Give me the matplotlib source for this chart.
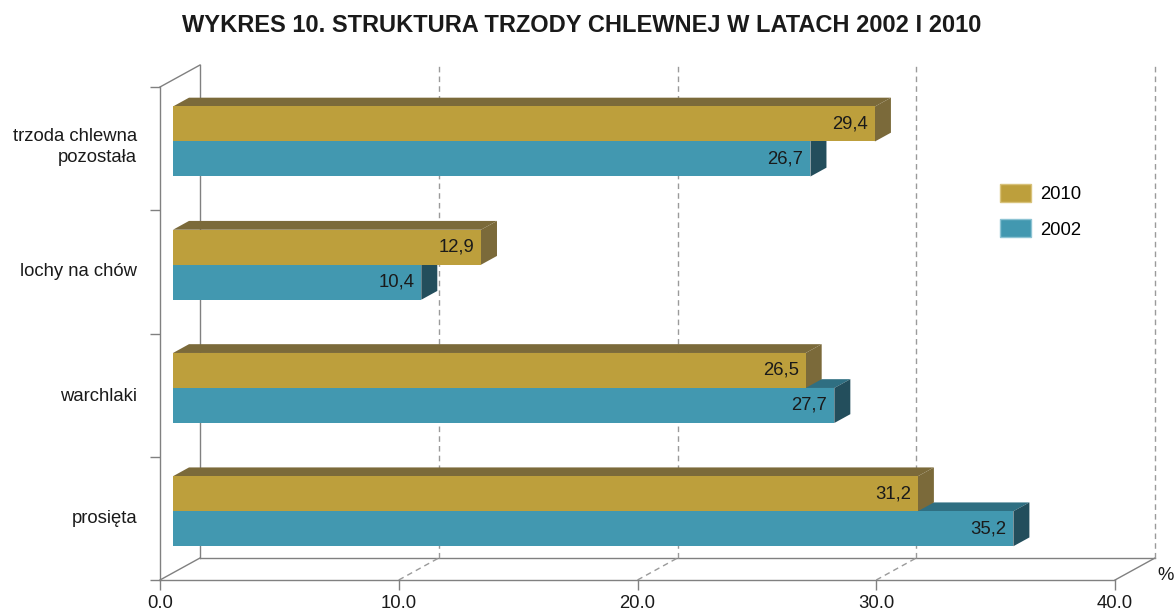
import matplotlib
matplotlib.use("Agg")
import matplotlib.pyplot as plt
from matplotlib.patches import Patch
from matplotlib.transforms import ScaledTranslation

plt.rcParams["font.family"] = ["Liberation Sans", "DejaVu Sans"]

categories = ["prosięta", "warchlaki", "lochy na chów", "trzoda chlewna\npozostała"]
values_2010 = [31.2, 26.5, 12.9, 29.4]
values_2002 = [35.2, 27.7, 10.4, 26.7]
x_ticks = [0, 10, 20, 30, 40]
x_tick_labels = ["0.0", "10.0", "20.0", "30.0", "40.0"]

GOLD = "#bd9f3c"
GOLD_DARK = "#7b6a3a"
TEAL = "#4298b0"
TEAL_TOP = "#2f6f82"
TEAL_SIDE = "#234e5c"
AXIS = "#808080"
GRID = "#9a9a9a"
FS = 13.3

W, H = 1174, 611
fig = plt.figure(figsize=(W / 100, H / 100), dpi=100)
left, right, top, bottom = 160, 1115, 87, 580
ax = fig.add_axes([left / W, 1 - bottom / H, (right - left) / W, (bottom - top) / H])
ax.set_xlim(0, 40)
ax.set_ylim(0, 4)

# depth of the pseudo 3D box, pixels -> data units
px_x = (right - left) / 40
px_y = (bottom - top) / 4
DX = 40 / px_x
DY = 22 / px_y


def proj(x, y, d):
    return x + DX * d, y + DY * d


def poly(pts, color, z):
    xs, ys = zip(*[proj(*p) for p in pts])
    ax.fill(xs, ys, color=color, lw=0, zorder=z, clip_on=False)


def line(p0, p1, z=1, **kw):
    a, b = proj(*p0), proj(*p1)
    ax.plot([a[0], b[0]], [a[1], b[1]], zorder=z, clip_on=False, **kw)


# walls and floor
line((0, 0, 1), (0, 4, 1), color=AXIS, lw=1)
line((0, 4, 0), (0, 4, 1), color=AXIS, lw=1)
line((0, 0, 1), (40, 0, 1), color=AXIS, lw=1)
line((0, 0, 0), (0, 0, 1), color=AXIS, lw=1)
line((40, 0, 0), (40, 0, 1), color=AXIS, lw=1)
for v in x_ticks[1:]:
    line((v, 0, 1), (v, 4, 1), color=GRID, lw=1, ls=(0, (4, 3)))
for v in x_ticks[1:-1]:
    line((v, 0, 0), (v, 0, 1), color=GRID, lw=1, ls=(0, (4, 3)))

# bars
bh = 35 / px_y
d0, d1 = 13 / 40, 29 / 40
for i, (v10, v02) in enumerate(zip(values_2010, values_2002)):
    c = i + 0.5
    for v, y0, y1, front, topc, side, z in [
        (v02, c - bh, c, TEAL, TEAL_TOP, TEAL_SIDE, 3),
        (v10, c, c + bh, GOLD, GOLD_DARK, GOLD_DARK, 4),
    ]:
        poly([(0, y1, d0), (v, y1, d0), (v, y1, d1), (0, y1, d1)], topc, z)
        poly([(v, y0, d0), (v, y1, d0), (v, y1, d1), (v, y0, d1)], side, z)
        poly([(0, y0, d0), (v, y0, d0), (v, y1, d0), (0, y1, d0)], front, z)
        tx, ty = proj(v, (y0 + y1) / 2, d0)
        ax.annotate(f"{v:.1f}".replace(".", ","), (tx, ty), xytext=(-7, 0),
                    textcoords="offset pixels", ha="right", va="center",
                    fontsize=FS, color="#1a1a1a", zorder=z + 0.5)

# front axes
for s in ["top", "right"]:
    ax.spines[s].set_visible(False)
for s in ["left", "bottom"]:
    ax.spines[s].set_color(AXIS)
    ax.spines[s].set_linewidth(1)
ax.set_xticks(x_ticks, x_tick_labels)
ax.set_yticks(range(5), [""] * 5)
ax.set_yticks([0.5, 1.5, 2.5, 3.5], categories, minor=True)
ax.tick_params(axis="both", which="major", color=AXIS, length=7, width=1,
               labelsize=FS, labelcolor="#1a1a1a", pad=4)
ax.tick_params(axis="y", which="minor", length=0, labelsize=FS,
               labelcolor="#1a1a1a", pad=16.5)
for lab, up in zip(ax.get_yticklabels(minor=True), [2, 1, 2, 6]):
    lab.set_linespacing(1.3)
    lab.set_transform(lab.get_transform() + ScaledTranslation(0, up / 100, fig.dpi_scale_trans))
ax.set_facecolor("none")
ax.text(42.1, 0.04, "%", fontsize=FS, color="#1a1a1a", ha="center", va="center")

handles = [Patch(facecolor=GOLD, edgecolor="#d8c27a", label="2010"),
           Patch(facecolor=TEAL, edgecolor="#8cc3d3", label="2002")]
fig.legend(handles=handles, loc="upper left", bbox_to_anchor=(1000 / W, 1 - 184 / H),
           frameon=False, fontsize=FS, handlelength=1.7, handleheight=1.15,
           handletextpad=0.45, labelspacing=0.85, borderpad=0, borderaxespad=0)

fig.suptitle("WYKRES 10. STRUKTURA TRZODY CHLEWNEJ W LATACH 2002 I 2010",
             x=582 / W, y=1 - 26 / H, va="center", fontsize=17, fontweight="bold",
             color="#1a1a1a")

fig.savefig("out.png", dpi=100)
